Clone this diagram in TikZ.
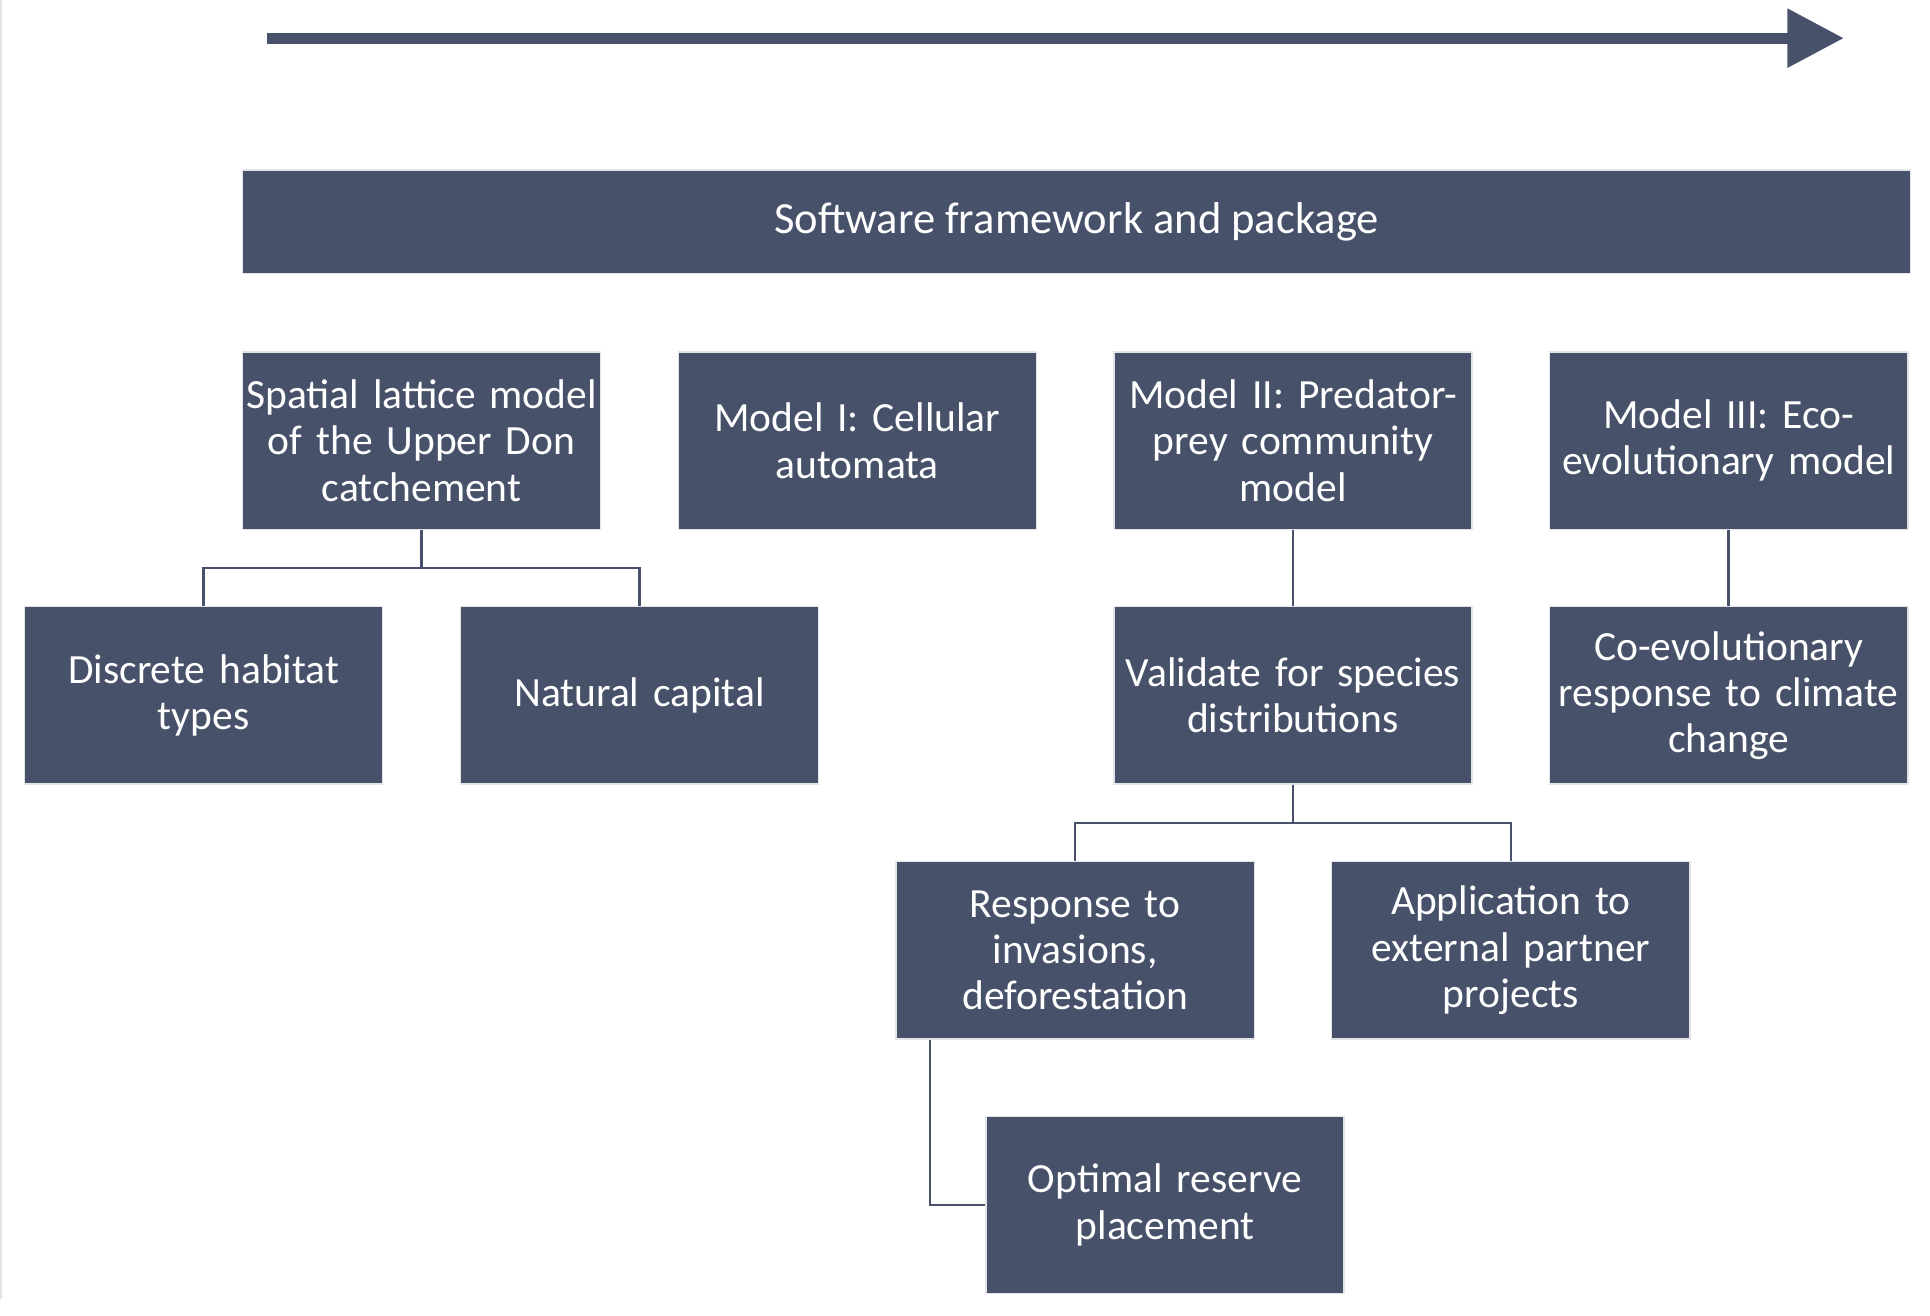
\documentclass[tikz,border=0pt]{standalone}
\usepackage{fontspec}
\setmainfont{Carlito}
\usepackage{xcolor}
\usepackage{tikz}
\usetikzlibrary{shapes,arrows,arrows.meta}
\definecolor{slate}{HTML}{475169}
\definecolor{rim}{HTML}{E2E4E8}
\tikzstyle{block} = [rectangle, draw=rim, line width=0.6pt, fill=slate, text=white, text width=5.8cm, text centered, inner sep=0pt, minimum width=5.82cm, minimum height=2.88cm, font=\fontsize{19.2}{21.4}\selectfont]
\tikzstyle{bar} = [rectangle, draw=rim, line width=0.6pt, fill=slate, text=white, minimum width=27.1cm, minimum height=1.68cm, font=\fontsize{20.6}{23}\selectfont]
\tikzstyle{line} = [draw=slate, line width=1.2pt]

\begin{document}
\begin{tikzpicture}[node distance = 7.08cm, auto]
        \useasboundingbox (0,0) rectangle (31.36,-21.38);
        \draw [rim, line width=0.8pt] (0.02,0) -- (0.02,-21.1);
        % Time arrow
        \coordinate (start) at (4.34,-0.62);
        \coordinate (finish) at (29.96,-0.62);
        \path [draw=slate, line width=5pt, -{Triangle[length=0.92cm, width=0.92cm]}] (start) -- (finish);
        % Place nodes
        \node [bar] (frame) at (17.49,-3.6) {Software framework and package};
        \node [block] (lattice) at (6.85,-7.16) {Spatial lattice model\\of the Upper Don\\catchement};
        \node [block, right of=lattice] (cellular) {Model I: Cellular\\automata};
        \node [block, right of=cellular] (predator) {Model II: Predator-\\prey community\\model};
        \node [block, right of=predator] (eco) {Model III: Eco-\\evolutionary model};
        \node [block, below of=lattice, node distance=4.14cm, xshift=-3.54cm] (habitat) {Discrete habitat\\types};
        \node [block, below of=lattice, node distance=4.14cm, xshift=3.54cm] (capital) {Natural capital};
        \node [block, below of=predator, node distance=4.14cm] (validate) {Validate for species\\distributions};
        \node [block, below of=eco, node distance=4.14cm] (coevo) {Co-evolutionary\\response to climate\\change};
        \node [block, below of=validate, node distance=4.14cm, xshift=-3.54cm] (invasion) {Response to\\invasions,\\deforestation};
        \node [block, below of=validate, node distance=4.14cm, xshift=3.54cm] (partner) {Application to\\external partner\\projects};
        \node [block, below of=invasion, node distance=4.14cm, xshift=1.46cm] (reserve) {Optimal reserve\\placement};
        % Draw edges
        \path [line] (lattice.south) -- ++(0,-0.62) -| (habitat.north);
        \path [line] (lattice.south) -- ++(0,-0.62) -| (capital.north);
        \path [line] (predator) -- (validate);
        \path [line] (eco) -- (coevo);
        \path [line] (validate.south) -- ++(0,-0.62) -| (invasion.north);
        \path [line] (validate.south) -- ++(0,-0.62) -| (partner.north);
        \path [line] ([xshift=0.56cm]invasion.south west) |- (reserve.west);
    \end{tikzpicture}
\end{document}
